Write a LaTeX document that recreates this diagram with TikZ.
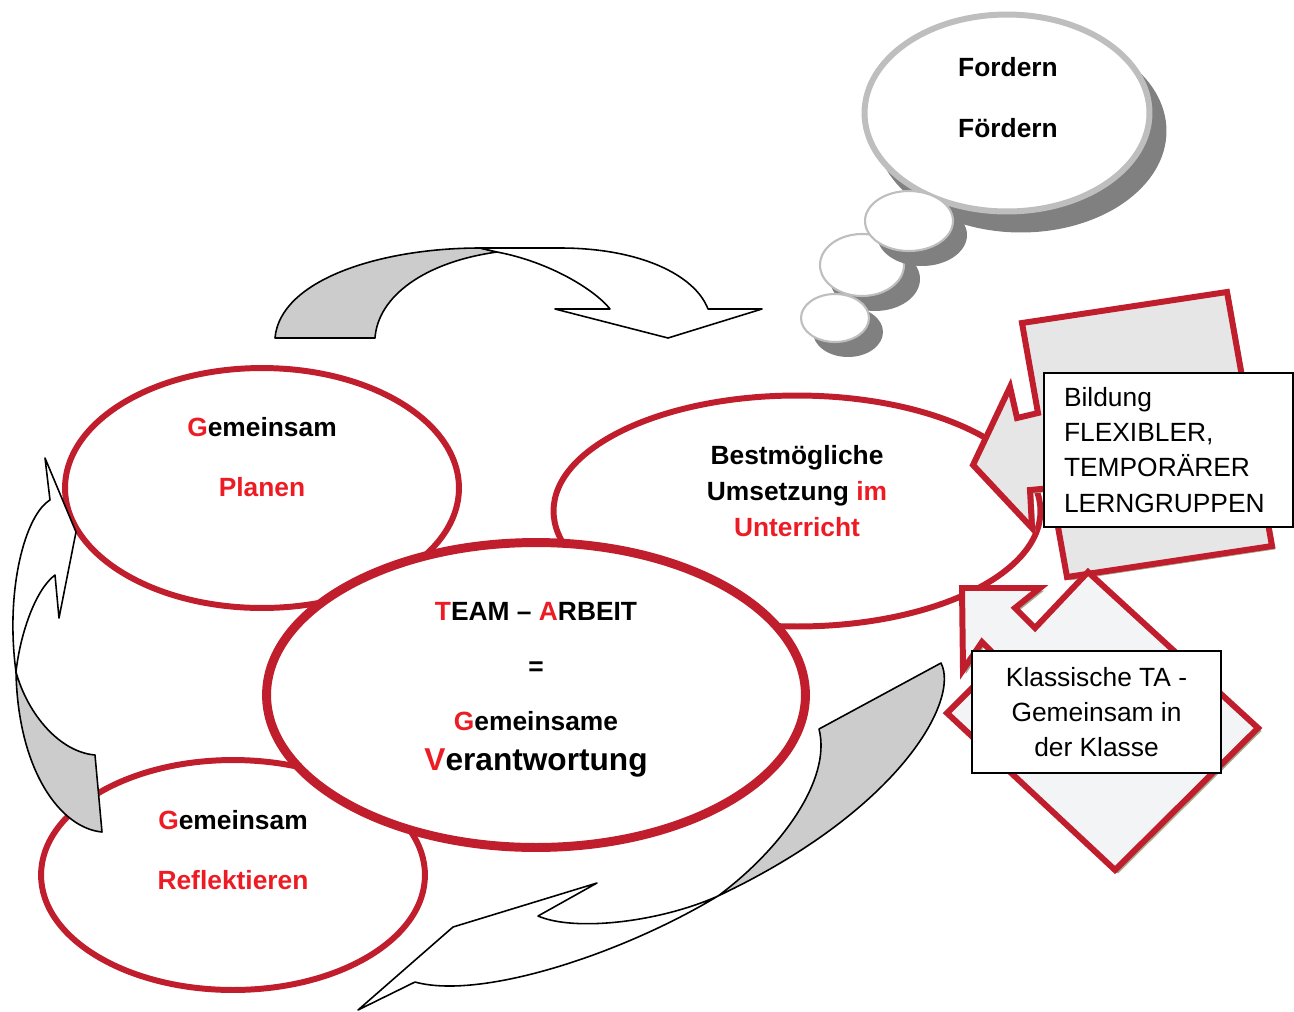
\documentclass[tikz,border=0pt]{standalone}
\usepackage{fontspec}
\setmainfont{Liberation Sans}
\usetikzlibrary{shapes.geometric, positioning}
\definecolor{tred}{RGB}{237,28,36}
\definecolor{bred}{RGB}{192,30,45}
\definecolor{agray}{RGB}{204,204,204}
\definecolor{sqgray}{RGB}{230,230,230}
\definecolor{digray}{RGB}{243,244,246}
\definecolor{schatten}{RGB}{163,172,143}
\definecolor{wline}{RGB}{190,190,190}
\definecolor{wshade}{RGB}{128,128,128}
\newcommand\rd[1]{\textcolor{tred}{#1}}

\tikzset{
  zyklus/.style={draw=bred, fill=white, ellipse, line width=3.4pt, inner sep=0pt},
  txt/.style={font=\bfseries\fontsize{15}{18}\selectfont, align=center},
  infobox/.style={draw=black, fill=white, line width=0.9pt, inner sep=0pt, font=\fontsize{15}{20}\selectfont},
  pfeil/.style={draw=black, line width=0.9pt, line join=round},
  callout/.style={draw=bred, line width=3.4pt, line join=miter,
    preaction={draw=schatten, fill=schatten, transform canvas={shift={(3,3)}}}},
  wolke/.style={draw=wline, fill=white, ellipse, inner sep=0pt},
  wolkenschatten/.style={fill=wshade, ellipse, inner sep=0pt},
}

\begin{document}
\begin{tikzpicture}[x=0.02cm, y=-0.02cm]
\useasboundingbox (0,0) rectangle (1294,1011);

% Bogenpfeil oben
\draw[pfeil, fill=agray] (275,338) -- (375,338) .. controls (378,296) and (425,262) .. (497,252) -- (480,248) .. controls (380,248) and (280,280) .. (275,338) -- cycle;
\draw[pfeil, fill=white] (497,252) .. controls (550,262) and (595,290) .. (610,309) -- (555,309) -- (668,338) -- (762,309) -- (708,309) .. controls (695,275) and (640,248) .. (560,248) -- (480,248) -- cycle;

% Denkblase
\node[wolkenschatten, minimum width=5.82cm, minimum height=4.06cm] (wolkes) at (1021,131) {};
\node[wolke, line width=3.4pt, minimum width=5.7cm, minimum height=3.94cm] (wolke) at (1007,113) {};
\node[txt] (fordern) at (1008,98) {Fordern\\[16.7pt]Fördern};
\node[wolkenschatten, minimum width=1.8cm, minimum height=1.28cm] (blase2s) at (875,279) {};
\node[wolke, line width=1.2pt, minimum width=1.68cm, minimum height=1.24cm] (blase2) at (862,265) {};
\node[wolkenschatten, minimum width=1.4cm, minimum height=1cm] (blase3s) at (848,332) {};
\node[wolke, line width=1.2pt, minimum width=1.36cm, minimum height=0.96cm] (blase3) at (835,318) {};
\node[wolkenschatten, minimum width=1.8cm, minimum height=1.24cm] (blase1s) at (922,235) {};
\node[wolke, line width=1.2pt, minimum width=1.76cm, minimum height=1.2cm] (blase1) at (909,221) {};

% Ellipsen
\node[zyklus, minimum width=7.88cm, minimum height=4.8cm] (planen) at (262,488) {};
\node[zyklus, minimum width=9.74cm, minimum height=4.62cm] (umsetzung) at (797,511) {};
\node[zyklus, minimum width=7.68cm, minimum height=4.6cm] (reflekt) at (233,875) {};
\node[zyklus, line width=5.1pt, minimum width=10.78cm, minimum height=6.1cm] (team) at (536,695) {};

\node[txt] (planentxt) at (262,457) {\rd{G}emeinsam\\[16pt]\rd{Planen}};
\node[txt, font=\bfseries\fontsize{15}{20.5}\selectfont] (umsetzungtxt) at (797,491) {Bestmögliche\\Umsetzung \rd{im}\\\rd{Unterricht}};
\node[txt] (reflekttxt) at (233,850) {\rd{G}emeinsam\\[16pt]\rd{Reflektieren}};
\node[txt] (teamtxt) at (536,690) {\rd{T}EAM – \rd{A}RBEIT\\[13.3pt]=\\[13.3pt]\rd{G}emeinsame\\[4.5pt]{\fontsize{18}{22}\selectfont\rd{V}erantwortung}};

% Bogenpfeil links
\draw[pfeil, fill=agray] (16,672) .. controls (28,715) and (60,752) .. (95,755) -- (102,832) .. controls (60,828) and (18,770) .. (16,672) -- cycle;
\draw[pfeil, fill=white] (16,672) .. controls (20,635) and (35,590) .. (55,575) -- (59,618) -- (76,532) -- (45,458) -- (50,500) .. controls (25,515) and (5,590) .. (16,672) -- cycle;

% Bogenpfeil unten
\draw[pfeil, fill=agray] (941,663) -- (819,729) .. controls (832,780) and (780,850) .. (718,896) .. controls (900,810) and (960,700) .. (941,663) -- cycle;
\draw[pfeil, fill=white] (718,896) .. controls (660,922) and (575,932) .. (538,916) -- (597,883) -- (453,927) -- (358,1010) -- (415,982) .. controls (480,1000) and (620,955) .. (718,896) -- cycle;

% Kasten mit Pfeil
\draw[callout, fill=sqgray] (1022,323) -- (1227,292) -- (1272,546) -- (1067,577) -- (1051,488) -- (1030,490) -- (1032,528) -- (973,465) -- (1010,387) -- (1017,418) -- (1038,413) -- cycle;
\node[infobox, minimum width=4.98cm, minimum height=3.08cm, text width=4.18cm, align=left] (bildung) at (1168.5,450) {Bildung\\FLEXIBLER,\\TEMPORÄRER\\LERNGRUPPEN};

% Raute mit Pfeil
\draw[callout, fill=digray] (1088,572) -- (1258,728) -- (1115,870) -- (947,713) -- (1000,660) -- (982,642) -- (963,670) -- (962,588) -- (1040,588) -- (1015,608) -- (1035,628) -- cycle;
\node[infobox, minimum width=4.98cm, minimum height=2.44cm, align=center] (klassisch) at (1096.5,712) {Klassische TA -\\Gemeinsam in\\der Klasse};
\end{tikzpicture}
\end{document}
